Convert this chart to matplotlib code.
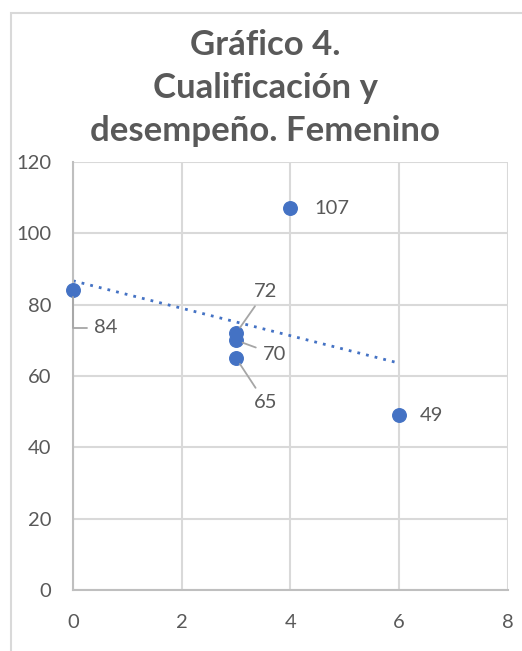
import matplotlib.pyplot as plt
import numpy as np
from matplotlib.patches import Rectangle

plt.rcParams["font.family"] = ["Lato", "DejaVu Sans"]

# data
cualificacion = [0, 3, 3, 3, 4, 6]
desempeno = [84, 72, 70, 65, 107, 49]
# label offsets (points) and whether a leader line is drawn
label_offsets = [(15, -27), (21, 30), (19, -10), (21, -32), (17, 0), (15, 0)]
label_leader = [True, True, True, True, False, False]
x_ticks = [0, 2, 4, 6, 8]
y_ticks = [0, 20, 40, 60, 80, 100, 120]
title = "Gráfico 4.\nCualificación y\ndesempeño. Femenino"

blue = "#4472C4"
grey_text = "#595959"
grid_grey = "#d9d9d9"

fig = plt.figure(figsize=(5.22, 6.51), dpi=100)
ax = fig.add_axes([0.1398, 0.0937, 0.8333, 0.6575])

# chart border (cut by the picture edges on right and bottom)
fig.patches.append(Rectangle((11 / 522, -0.2), 1.2, 1.2 - 13 / 651,
                             transform=fig.transFigure, fill=False,
                             edgecolor=grid_grey, linewidth=1.5))

fig.text(0.508, 0.865, title, ha="center", va="center", fontsize=25,
         fontweight="bold", color=grey_text, linespacing=1.42)

ax.scatter(cualificacion, desempeno, s=95, color=blue, zorder=3,
           clip_on=False)

# linear trend line
slope, intercept = np.polyfit(cualificacion, desempeno, 1)
xt = np.array([min(cualificacion), max(cualificacion)])
ax.plot(xt, slope * xt + intercept, linestyle=(0, (1, 2.2)), color=blue,
        linewidth=2, zorder=2)

for x, y, (dx, dy), leader in zip(cualificacion, desempeno, label_offsets,
                                  label_leader):
    ha = "left" if dx > 0 and abs(dy) < 20 else "center"
    if (x, y) == (0, 84):
        ha = "left"
    arrow = None
    if leader:
        if (x, y) == (0, 84):
            conn = "angle,angleA=0,angleB=90,rad=0"
        else:
            conn = "arc3"
        arrow = dict(arrowstyle="-", color="#a6a6a6", lw=1.3,
                     connectionstyle=conn, shrinkA=3, shrinkB=5)
    ax.annotate(str(y), (x, y), xytext=(dx, dy), textcoords="offset points",
                ha=ha, va="center", fontsize=14.5, color=grey_text,
                arrowprops=arrow)

ax.set_xlim(0, 8)
ax.set_ylim(0, 120)
ax.set_xticks(x_ticks)
ax.set_yticks(y_ticks)
ax.grid(True, color=grid_grey, linewidth=1.5)
ax.set_axisbelow(True)
for side in ["top", "right"]:
    ax.spines[side].set_visible(False)
for side in ["left", "bottom"]:
    ax.spines[side].set_color("#bfbfbf")
    ax.spines[side].set_linewidth(1.5)
ax.tick_params(length=0, labelsize=14.5, labelcolor=grey_text)
ax.tick_params(axis="x", pad=17)
ax.tick_params(axis="y", pad=15.5)

fig.savefig("out.png", dpi=100)
